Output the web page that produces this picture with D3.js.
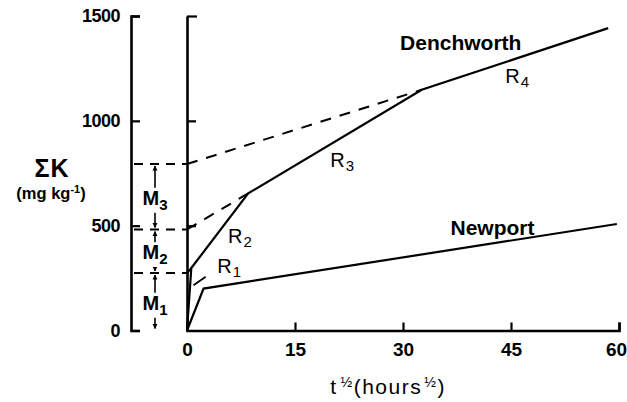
<!DOCTYPE html>
<html>
<head>
<meta charset="utf-8">
<script src="https://cdn.jsdelivr.net/npm/d3@7"></script>
<style>
  html, body { margin: 0; padding: 0; background: #fff; }
  svg { display: block; }
  text { font-family: "Liberation Sans", Arial, Helvetica, sans-serif; fill: #000; }
</style>
</head>
<body>
<svg id="chart" width="627" height="402"></svg>
<script>
// Cumulative K release vs square root of time, two soils
const xTicks = [0, 15, 30, 45, 60];
const yTicks = [0, 500, 1000, 1500];

// Denchworth: four linear release stages R1..R4
const denchworth = [[0, 0], [0.6, 298], [8.5, 654], [32.6, 1148], [58.5, 1442]];
// Newport
const newport = [[0, 0], [2.3, 200], [59.7, 508]];

// Back-extrapolations of the stage lines to t = 0
const extrapR4 = [[0, 794], [32.6, 1148]];
const extrapR3 = [[0, 482], [8.5, 654]];
const extrapR2 = [[0, 274], [0.6, 298]];
// Pointer from the R1 label to the first stage
const pointerR1 = [[0.9, 216], [2.6, 256]];

// Pool boundaries (intercepts) defining M1, M2, M3
const poolBounds = [0, 274, 482, 794];
const poolNames = ["1", "2", "3"];

// Stage labels: [x, y, subscript]
const stageLabels = [[4.2, 273, "1"], [5.7, 418, "2"], [19.9, 778, "3"], [44.2, 1180, "4"]];
const soilLabels = [[29.6, 1340, "Denchworth"], [36.6, 455, "Newport"]];

const svg = d3.select("#chart");
const x = d3.scaleLinear().domain([0, 60]).range([187, 619]);
const y = d3.scaleLinear().domain([0, 1500]).range([330.5, 16]);
const leftAxisX = 131;
const arrowX = 155;

// arrowhead marker
svg.append("defs").append("marker")
  .attr("id", "ah").attr("viewBox", "0 0 10 10")
  .attr("refX", 9).attr("refY", 5)
  .attr("markerWidth", 5).attr("markerHeight", 6)
  .attr("markerUnits", "userSpaceOnUse")
  .attr("orient", "auto")
  .append("path").attr("d", "M0,0 L10,5 L0,10 Z").attr("fill", "#000");

function styleAxis(g) {
  g.selectAll("path.domain").attr("stroke", "#000").attr("stroke-width", 2.6);
  g.selectAll(".tick line").attr("stroke", "#000").attr("stroke-width", 2.2);
}

// Left labelled K axis
const gLeft = svg.append("g").attr("transform", `translate(${leftAxisX},0)`)
  .call(d3.axisLeft(y).tickValues(yTicks).tickFormat(d3.format("d"))
    .tickSizeInner(-9).tickSizeOuter(-9).tickPadding(11));
styleAxis(gLeft);
gLeft.selectAll(".tick text").attr("font-size", 18).attr("font-weight", "bold")
  .attr("font-family", "'Liberation Sans', Arial, sans-serif").attr("letter-spacing", "-0.5");

// Plot y axis (no labels)
const gPlotY = svg.append("g").attr("transform", `translate(${x(0)},0)`)
  .call(d3.axisLeft(y).tickValues([500, 1000, 1500]).tickFormat("").tickSizeInner(-9).tickSizeOuter(0));
styleAxis(gPlotY);
gPlotY.selectAll(".tick").filter(d => d === 1500).select("line").attr("x2", 10);

// x axis
const gX = svg.append("g").attr("transform", `translate(0,${y(0)})`)
  .call(d3.axisBottom(x).tickValues(xTicks).tickSizeInner(-8).tickSizeOuter(-8).tickPadding(12));
styleAxis(gX);
gX.selectAll(".tick").filter(d => d === 0).select("line").remove();
gX.selectAll(".tick text").attr("font-size", 19).attr("font-weight", "bold")
  .attr("font-family", "'Liberation Sans', Arial, sans-serif");
gX.selectAll(".tick").filter(d => d === 60).select("text").attr("dx", -3);

const line = d3.line().x(d => x(d[0])).y(d => y(d[1]));

// dashed horizontal pool boundaries between the two axes
svg.append("g").selectAll("line").data(poolBounds.slice(1)).join("line")
  .attr("x1", leftAxisX + 3).attr("x2", x(0))
  .attr("y1", d => y(d)).attr("y2", d => y(d))
  .attr("stroke", "#000").attr("stroke-width", 2).attr("stroke-dasharray", "9,7");

// extrapolation lines
[extrapR4, extrapR3, extrapR2].forEach(seg => {
  svg.append("path").attr("d", line(seg)).attr("fill", "none")
    .attr("stroke", "#000").attr("stroke-width", 2).attr("stroke-dasharray", "11,9");
});

// soil curves
[denchworth, newport].forEach(seg => {
  svg.append("path").attr("d", line(seg)).attr("fill", "none")
    .attr("stroke", "#000").attr("stroke-width", 2.2).attr("stroke-linejoin", "miter");
});
svg.append("path").attr("d", line(pointerR1)).attr("fill", "none")
  .attr("stroke", "#000").attr("stroke-width", 1.8);

// stage labels R1..R4
stageLabels.forEach(([sx, sy, sub]) => {
  const t = svg.append("text").attr("x", x(sx)).attr("y", y(sy)).attr("font-size", 20);
  t.append("tspan").text("R");
  t.append("tspan").attr("dy", 4).attr("font-size", 15).attr("dx", 1).text(sub);
});

// soil names
soilLabels.forEach(([sx, sy, name]) => {
  svg.append("text").attr("x", x(sx)).attr("y", y(sy))
    .attr("font-size", 21).attr("font-weight", "bold").text(name);
});

// pool labels with arrows to their boundaries
for (let i = 0; i < 3; i++) {
  const lo = y(poolBounds[i]), hi = y(poolBounds[i + 1]);
  const mid = (lo + hi) / 2 + 1;
  const t = svg.append("text").attr("x", arrowX).attr("y", mid + 7)
    .attr("text-anchor", "middle").attr("font-size", 20).attr("font-weight", "bold");
  t.append("tspan").text("M");
  t.append("tspan").attr("dy", 5).attr("font-size", 15).text(poolNames[i]);
  const topStart = mid - 10, botStart = mid + 15;
  svg.append("line").attr("x1", arrowX).attr("x2", arrowX)
    .attr("y1", topStart).attr("y2", hi + 2)
    .attr("stroke", "#000").attr("stroke-width", 1.6).attr("marker-end", "url(#ah)");
  svg.append("line").attr("x1", arrowX).attr("x2", arrowX)
    .attr("y1", botStart).attr("y2", lo - 2)
    .attr("stroke", "#000").attr("stroke-width", 1.6).attr("marker-end", "url(#ah)");
}

// y axis title
svg.append("text").attr("x", 52).attr("y", 177).attr("text-anchor", "middle")
  .attr("font-size", 25).attr("font-weight", "bold").attr("letter-spacing", "1").text("ΣK");
const yu = svg.append("text").attr("x", 51).attr("y", 199).attr("text-anchor", "middle")
  .attr("font-size", 16.5).attr("font-weight", "bold");
yu.append("tspan").text("(mg kg");
yu.append("tspan").attr("dy", -6).attr("font-size", 11).text("-1");
yu.append("tspan").attr("dy", 6).text(")");

// x axis title
const xt = svg.append("text").attr("x", 388).attr("y", 394).attr("text-anchor", "middle")
  .attr("font-size", 21).attr("letter-spacing", "1.5");
xt.append("tspan").text("t");
xt.append("tspan").attr("dy", -7).attr("font-size", 14).attr("dx", 3).text("½");
xt.append("tspan").attr("dy", 7).text("(hours");
xt.append("tspan").attr("dy", -7).attr("font-size", 14).attr("dx", 2).text("½");
xt.append("tspan").attr("dy", 7).text(")");
</script>
</body>
</html>
